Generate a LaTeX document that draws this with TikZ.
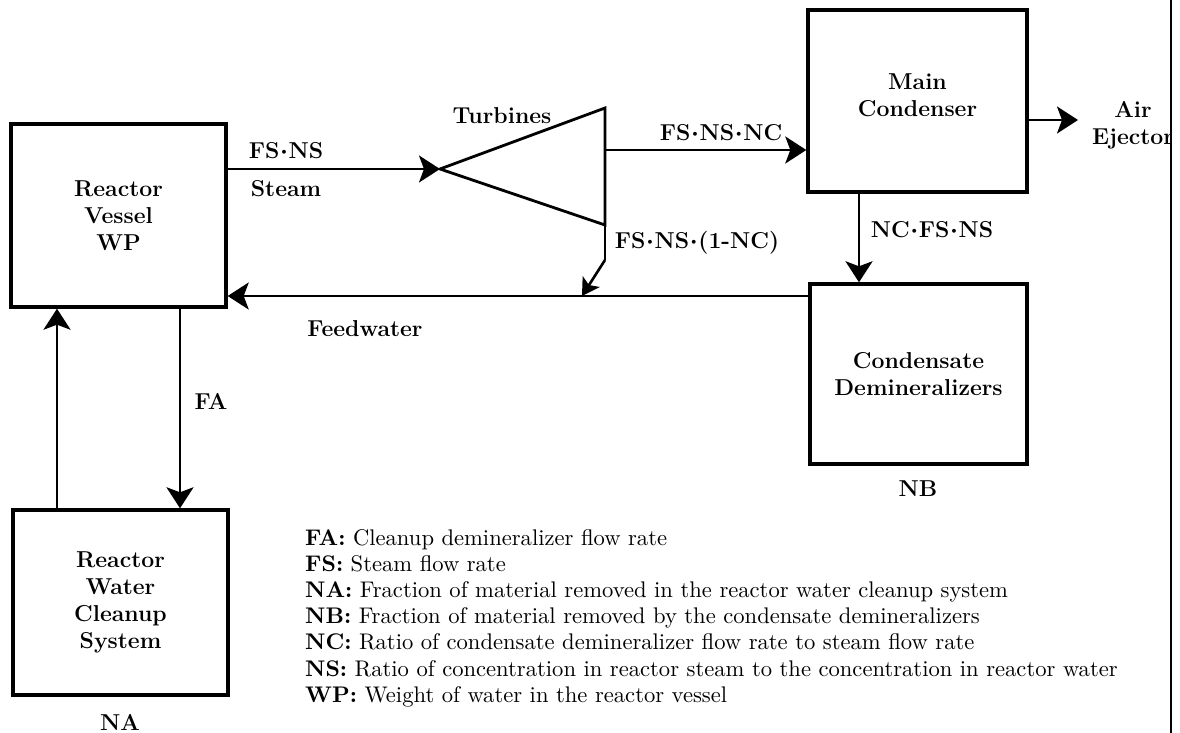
\documentclass[tikz,border=0pt]{standalone}
\usepackage{fontspec}
\newfontfamily\legfont[Extension=.otf, UprightFont=*-regular, BoldFont=*-bold]{lmroman10}
\usetikzlibrary{arrows.meta}
\newcommand{\flowdot}{\kern0.6pt$\cdot$\kern0.6pt}
\begin{document}
\begin{tikzpicture}[x=1pt,y=-1pt,
  lbl/.style={font=\fontsize{23}{27}\selectfont\bfseries\boldmath, inner sep=0pt},
  box/.style={draw, line width=3.4pt, align=center, inner sep=0pt,
    font=\fontsize{23}{27}\selectfont\bfseries},
  flow/.style={line width=2.6pt, -{Stealth[length=21pt,width=27pt,inset=5pt]}},
  plainline/.style={line width=2.6pt},
  leg/.style={anchor=base west, inner sep=0pt, font=\legfont\fontsize{22.6}{24}\selectfont}]
\useasboundingbox (0,0) rectangle (1180,733);
% boxes
\node[box, minimum width=215pt, minimum height=183pt] (rv) at (118.5,215.5) {Reactor\\Vessel\\WP};
\node[box, minimum width=219pt, minimum height=182pt] (mc) at (917.5,101) {};
\node[lbl, align=center] (mct) at ([yshift=6pt]mc.center) {Main\\Condenser};
\node[box, minimum width=217pt, minimum height=180pt] (cd) at (918.5,374) {Condensate\\Demineralizers};
\node[box, minimum width=215pt, minimum height=185pt] (rw) at (120.5,602.5) {Reactor\\Water\\Cleanup\\System};
% turbine
\coordinate (tin) at (440,169);
\coordinate (ttop) at (605,108);
\coordinate (tbot) at (605,225);
\draw[line width=2.8pt, line join=miter] (tin) -- (ttop) -- (tbot) -- cycle;
\coordinate (tout) at (605,150);
\coordinate (tb) at (605,260);
\coordinate (fj) at (582,296);
\coordinate (air) at (1078,120);
\coordinate (ncx) at (859,0);
\coordinate (upx) at (57,0);
\coordinate (fax) at (180,0);
% connectors
\draw[flow] (tin -| rv.east) -- (tin);
\draw[flow] (tout) -- (tout -| mc.west);
\draw[flow] (air -| mc.east) -- (air);
\draw[flow] (ncx |- mc.south) -- (ncx |- cd.north);
\draw[plainline] (tbot) -- (tb);
\draw[line width=2.6pt, -{Stealth[length=17pt,width=20pt,inset=4pt]}] (tb) -- (fj);
\draw[flow] (fj -| cd.west) -- (fj -| rv.east);
\draw[flow] (fax |- rv.south) -- (fax |- rw.north);
\draw[flow] (upx |- rw.north) -- (upx |- rv.south);
% labels
\node[lbl] (l1) at (286,151) {FS\flowdot NS};
\node[lbl] (l2) at (286,189) {Steam};
\node[lbl] (l3) at (502,116) {Turbines};
\node[lbl] (l4) at (721,133) {FS\flowdot NS\flowdot NC};
\node[lbl] (l5) at (697,243) {FS\flowdot NS\flowdot (1-NC)};
\node[lbl] (l6) at (365,329) {Feedwater};
\node[lbl] (l7) at (211,401) {FA};
\node[lbl] (l8) at (120,722) {NA};
\node[lbl] (l9) at (918,489) {NB};
\node[lbl] (l10) at (932,230) {NC\flowdot FS\flowdot NS};
\begin{scope}
\clip (0,0) rectangle (1169,733);
\node[lbl, align=center] (airlbl) at (1133,125) {Air\\Ejector};
\end{scope}
\draw[line width=2pt] (1171,0) -- (1171,733);
% legend
\node[leg] (g1) at (305,545) {\textbf{FA:} Cleanup demineralizer flow rate};
\node[leg] (g2) at (305,571.2) {\textbf{FS:} Steam flow rate};
\node[leg] (g3) at (305,597.4) {\textbf{NA:} Fraction of material removed in the reactor water cleanup system};
\node[leg] (g4) at (305,623.6) {\textbf{NB:} Fraction of material removed by the condensate demineralizers};
\node[leg] (g5) at (305,649.8) {\textbf{NC:} Ratio of condensate demineralizer flow rate to steam flow rate};
\node[leg] (g6) at (305,676) {\textbf{NS:} Ratio of concentration in reactor steam to the concentration in reactor water};
\node[leg] (g7) at (305,702.2) {\textbf{WP:} Weight of water in the reactor vessel};
\end{tikzpicture}
\end{document}
